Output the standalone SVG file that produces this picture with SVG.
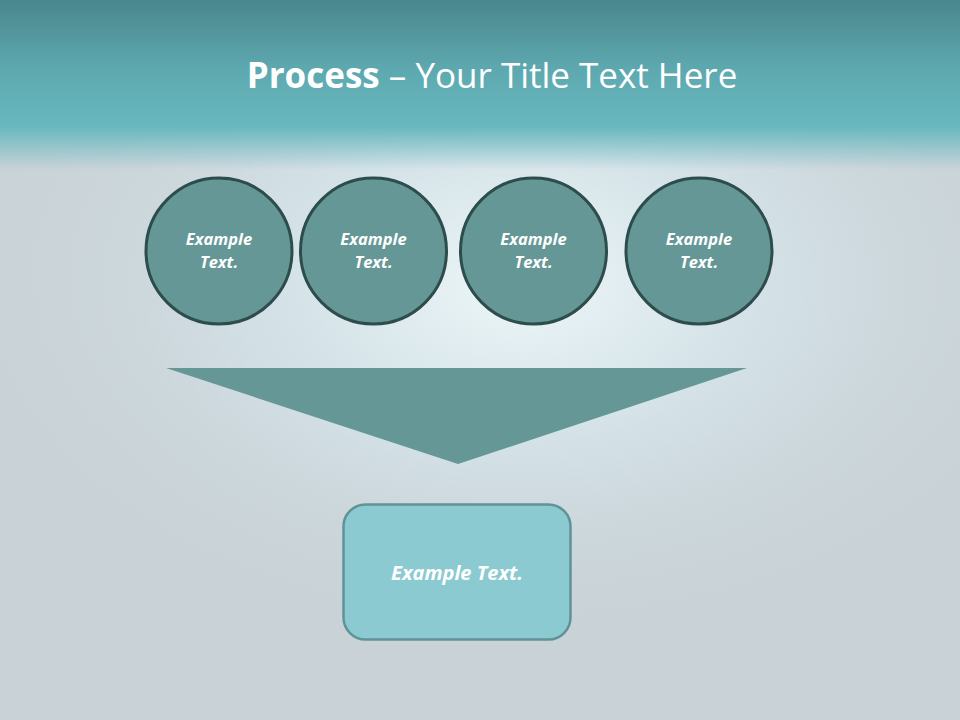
<svg xmlns="http://www.w3.org/2000/svg" width="960" height="720" viewBox="0 0 960 720">
<defs>
<linearGradient id="band" x1="0" y1="0" x2="0" y2="1">
<stop offset="0" stop-color="#4a868d"/>
<stop offset="0.55" stop-color="#5ea9b0"/>
<stop offset="1" stop-color="#68b8c0"/>
</linearGradient>
<linearGradient id="fade" x1="0" y1="0" x2="0" y2="1">
<stop offset="0" stop-color="#6cb9c0" stop-opacity="1"/>
<stop offset="1" stop-color="#6cb9c0" stop-opacity="0"/>
</linearGradient>
<linearGradient id="bg" x1="0" y1="0" x2="0" y2="1">
<stop offset="0" stop-color="#c9d3d8"/>
<stop offset="1" stop-color="#c8d2d7"/>
</linearGradient>
<radialGradient id="glow" cx="0.54" cy="0.3" r="0.55">
<stop offset="0" stop-color="#eef7f9" stop-opacity="1"/>
<stop offset="0.45" stop-color="#d9e9ee" stop-opacity="0.7"/>
<stop offset="1" stop-color="#cfd9de" stop-opacity="0"/>
</radialGradient>
<style>
.circ{fill:#659796;stroke:#2d4c4c;stroke-width:3}
.lbl{font-family:"Open Sans","Liberation Sans",sans-serif;font-weight:bold;font-style:italic;fill:#ffffff;text-anchor:middle}
</style>
</defs>
<rect width="960" height="720" fill="url(#bg)"/>
<rect x="0" y="100" width="960" height="620" fill="url(#glow)"/>
<rect x="0" y="0" width="960" height="128" fill="url(#band)"/>
<rect x="0" y="128" width="960" height="42" fill="url(#fade)"/>
<text x="492" y="88" font-family="'Open Sans','Liberation Sans',sans-serif" font-size="35" fill="#ffffff" text-anchor="middle"><tspan font-weight="bold">Process</tspan> – Your Title Text Here</text>
<g id="connectors">
<polygon points="166,368 747,368 458,464" fill="#659796"/>
</g>
<g id="c1"><circle class="circ" cx="219" cy="251" r="73"/><text class="lbl" font-size="16.5" x="219" y="245">Example</text><text class="lbl" font-size="16.5" x="219" y="268">Text.</text></g>
<g id="c2"><circle class="circ" cx="373.5" cy="251" r="73"/><text class="lbl" font-size="16.5" x="373.5" y="245">Example</text><text class="lbl" font-size="16.5" x="373.5" y="268">Text.</text></g>
<g id="c3"><circle class="circ" cx="533.5" cy="251" r="73"/><text class="lbl" font-size="16.5" x="533.5" y="245">Example</text><text class="lbl" font-size="16.5" x="533.5" y="268">Text.</text></g>
<g id="c4"><circle class="circ" cx="699" cy="251" r="73"/><text class="lbl" font-size="16.5" x="699" y="245">Example</text><text class="lbl" font-size="16.5" x="699" y="268">Text.</text></g>
<g id="box"><rect x="343.5" y="504.5" width="227" height="135" rx="22" fill="#8bcad1" stroke="#5f9397" stroke-width="2.5"/><text class="lbl" font-size="20" x="457" y="580">Example Text.</text></g>
</svg>
